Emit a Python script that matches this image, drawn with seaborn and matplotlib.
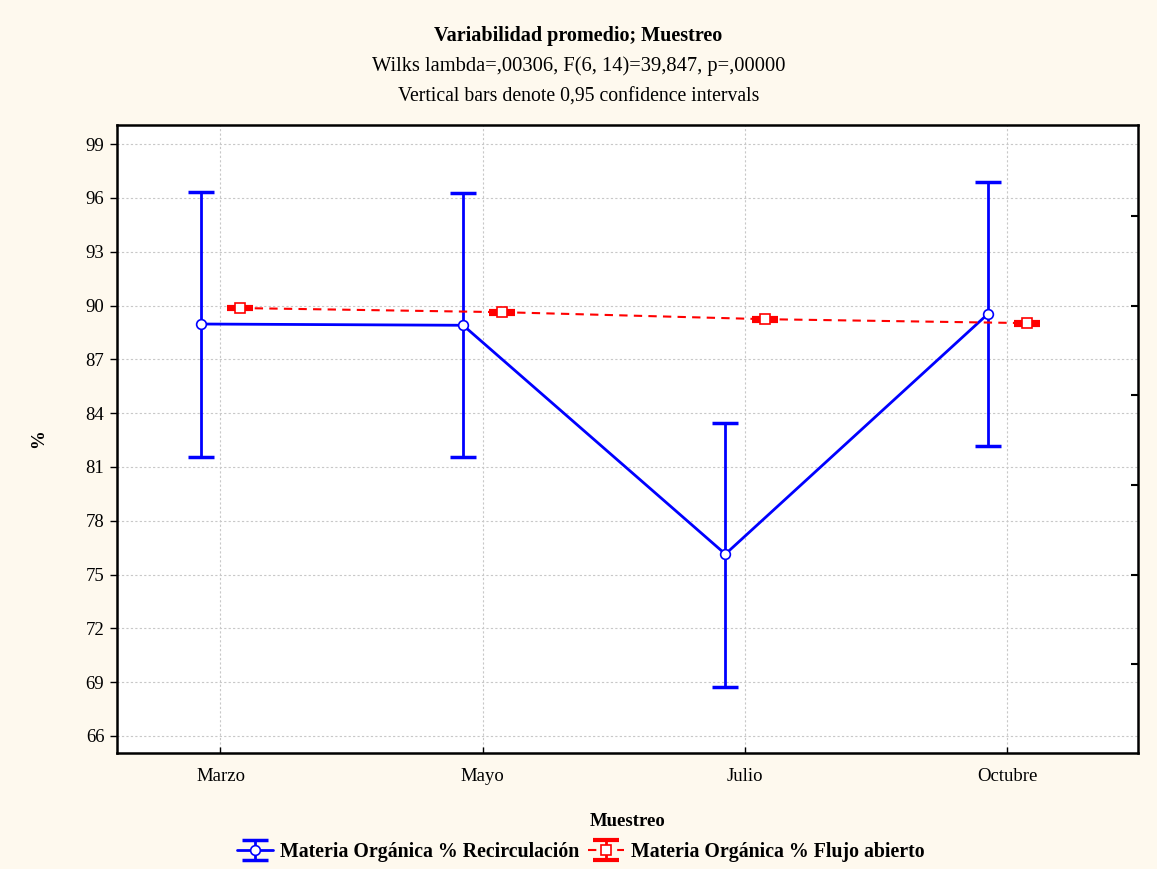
import matplotlib
matplotlib.use("Agg")
import matplotlib.pyplot as plt
from matplotlib.legend_handler import HandlerTuple
import seaborn as sns
import pandas as pd
import numpy as np

# datos
meses = ["Marzo", "Mayo", "Julio", "Octubre"]
recirc_media = [88.97, 88.90, 76.14, 89.52]
recirc_inf = [81.55, 81.55, 68.73, 82.16]
recirc_sup = [96.32, 96.27, 83.45, 96.88]
abierto_media = [89.86, 89.63, 89.24, 89.02]
abierto_inf = [89.78, 89.55, 89.16, 88.94]
abierto_sup = [89.94, 89.71, 89.32, 89.10]
serie_recirc = "Materia Orgánica % Recirculación"
serie_abierto = "Materia Orgánica % Flujo abierto"

sns.set_style("white")
plt.rcParams["font.family"] = ["Liberation Serif", "DejaVu Serif"]
plt.rcParams["font.size"] = 13.5
for k in ["text.color", "axes.labelcolor", "xtick.color", "ytick.color"]:
    plt.rcParams[k] = "black"

fondo = "#fef9ee"
fig = plt.figure(figsize=(11.57, 8.69), dpi=100, facecolor=fondo)
ax = fig.add_axes([0.101, 0.1335, 0.883, 0.7225])
ax.set_facecolor("white")

idx = np.arange(len(meses))
df_r = pd.DataFrame({"pos": idx - 0.075, "media": recirc_media,
                     "inf": recirc_inf, "sup": recirc_sup})
df_a = pd.DataFrame({"pos": idx + 0.075, "media": abierto_media,
                     "inf": abierto_inf, "sup": abierto_sup})

# barras de confianza
err_r = ax.errorbar(df_r["pos"], df_r["media"],
                    yerr=[df_r["media"] - df_r["inf"], df_r["sup"] - df_r["media"]],
                    fmt="none", ecolor="#0000ff", elinewidth=2, capsize=9.5, capthick=2.5, zorder=3)
err_a = ax.errorbar(df_a["pos"], df_a["media"],
                    yerr=[df_a["media"] - df_a["inf"], df_a["sup"] - df_a["media"]],
                    fmt="none", ecolor="#ff0000", elinewidth=2, capsize=9.5, capthick=3, zorder=3)

# líneas de medias
sns.lineplot(data=df_r, x="pos", y="media", ax=ax, color="#0000ff", lw=2, sort=False,
             marker="o", markersize=7, markerfacecolor="white", markeredgecolor="#0000ff",
             markeredgewidth=1.2, zorder=4)
sns.lineplot(data=df_a, x="pos", y="media", ax=ax, color="#ff0000", lw=1.5, sort=False,
             linestyle=(0, (4, 3)), marker="s", markersize=7, markerfacecolor="white",
             markeredgecolor="#ff0000", markeredgewidth=1.2, zorder=4)
line_r, line_a = ax.lines[-2], ax.lines[-1]

ax.set_xlim(-0.395, 3.5)
ax.set_ylim(65.05, 100.06)
ax.set_xticks(idx)
ax.set_xticklabels(meses)
ax.set_yticks(np.arange(66, 100, 3))
ax.grid(True, color="#c8c8c8", linestyle=(0, (2, 2)), linewidth=0.8)
ax.set_axisbelow(True)
ax.tick_params(axis="y", direction="out", length=5, width=1, left=True, pad=4)
ax.tick_params(axis="x", direction="in", length=4, width=1, bottom=True, pad=11)
for s in ax.spines.values():
    s.set_linewidth(1.8)
    s.set_color("black")

ax.set_xlabel("Muestreo", fontweight="bold", labelpad=20)
ax.set_ylabel("%", fontweight="bold", labelpad=28)

ax2 = ax.twinx()
ax2.set_ylim(ax.get_ylim())
ax2.set_yticks(np.arange(70, 100, 5))
ax2.tick_params(axis="y", direction="in", length=5, width=1.5, labelright=False, right=True)
for s in ax2.spines.values():
    s.set_visible(False)

fig.text(0.5, 1 - 36 / 869, "Variabilidad promedio; Muestreo", ha="center", va="center",
         fontweight="bold", fontsize=14.5)
fig.text(0.5, 1 - 66 / 869, "Wilks lambda=,00306, F(6, 14)=39,847, p=,00000", ha="center",
         va="center", fontsize=14.8)
fig.text(0.5, 1 - 97 / 869, "Vertical bars denote 0,95 confidence intervals", ha="center",
         va="center", fontsize=14.2)

fig.legend([(err_r, line_r), (err_a, line_a)], [serie_recirc, serie_abierto],
           handler_map={tuple: HandlerTuple(ndivide=1)},
           loc="center", bbox_to_anchor=(0.502, 1 - 852 / 869), ncol=2, frameon=False,
           prop={"weight": "bold", "size": 14.3}, handlelength=1.85, columnspacing=0.4,
           handletextpad=0.35)

fig.savefig("out.png", dpi=100, facecolor=fondo)
